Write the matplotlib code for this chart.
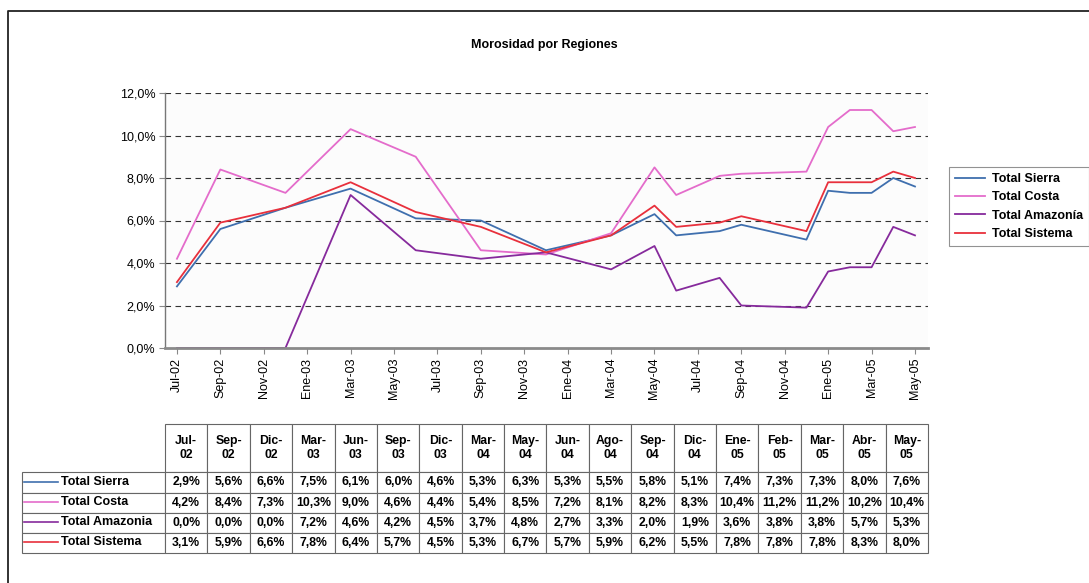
import matplotlib
matplotlib.use('Agg')
import matplotlib.pyplot as plt
from matplotlib.lines import Line2D

plt.rcParams['font.family'] = ['Liberation Sans', 'DejaVu Sans']

# --- datos ---
meses = ['Ene', 'Feb', 'Mar', 'Abr', 'May', 'Jun', 'Jul', 'Ago', 'Sep', 'Oct', 'Nov', 'Dic']
fechas = ['Jul-02', 'Sep-02', 'Dic-02', 'Mar-03', 'Jun-03', 'Sep-03', 'Dic-03', 'Mar-04', 'May-04',
          'Jun-04', 'Ago-04', 'Sep-04', 'Dic-04', 'Ene-05', 'Feb-05', 'Mar-05', 'Abr-05', 'May-05']
sierra = [2.9, 5.6, 6.6, 7.5, 6.1, 6.0, 4.6, 5.3, 6.3, 5.3, 5.5, 5.8, 5.1, 7.4, 7.3, 7.3, 8.0, 7.6]
costa = [4.2, 8.4, 7.3, 10.3, 9.0, 4.6, 4.4, 5.4, 8.5, 7.2, 8.1, 8.2, 8.3, 10.4, 11.2, 11.2, 10.2, 10.4]
amazonia = [0.0, 0.0, 0.0, 7.2, 4.6, 4.2, 4.5, 3.7, 4.8, 2.7, 3.3, 2.0, 1.9, 3.6, 3.8, 3.8, 5.7, 5.3]
sistema = [3.1, 5.9, 6.6, 7.8, 6.4, 5.7, 4.5, 5.3, 6.7, 5.7, 5.9, 6.2, 5.5, 7.8, 7.8, 7.8, 8.3, 8.0]
nombres = ['Total Sierra', 'Total Costa', 'Total Amazonia', 'Total Sistema']
nombres_leyenda = ['Total Sierra', 'Total Costa', 'Total Amazonía', 'Total Sistema']
colores = ['#3f6fae', '#e46ccb', '#862a9c', '#e8303c']
ticks_x = ['Jul-02', 'Sep-02', 'Nov-02', 'Ene-03', 'Mar-03', 'May-03', 'Jul-03', 'Sep-03', 'Nov-03',
           'Ene-04', 'Mar-04', 'May-04', 'Jul-04', 'Sep-04', 'Nov-04', 'Ene-05', 'Mar-05', 'May-05']
ticks_y = [0, 2, 4, 6, 8, 10, 12]

series = [sierra, costa, amazonia, sistema]


def mes_idx(etiqueta):
    m, a = etiqueta.split('-')
    return (int(a) - 2) * 12 + meses.index(m) - 6


def pct(v):
    return f'{v:.1f}%'.replace('.', ',')


W, H = 1089, 583


def fx(px):
    return px / W


def fy(py):
    return 1 - py / H


fig = plt.figure(figsize=(W / 100, H / 100), dpi=100)

# grafico de lineas
ax = fig.add_axes([fx(165), fy(348), fx(928) - fx(165), fy(93) - fy(348)])
ax.set_facecolor('#fcfcfc')
x = [mes_idx(f) for f in fechas]
lineas = []
for serie, nombre, color in zip(series, nombres_leyenda, colores):
    l, = ax.plot(x, serie, color=color, lw=1.3, label=nombre)
    lineas.append(l)

ax.set_xlim(-0.55, 34.6)
ax.set_ylim(0, 12)
ax.set_yticks(ticks_y)
ax.set_yticklabels([pct(v) for v in ticks_y], fontsize=9)
ax.set_xticks([mes_idx(t) for t in ticks_x])
ax.set_xticklabels(ticks_x, rotation=90, fontsize=9)
for v in ticks_y[1:]:
    ax.axhline(v, color='#333333', lw=0.8, ls=(0, (5, 4)), zorder=0)
for s in ['top', 'right']:
    ax.spines[s].set_visible(False)
for s in ['left', 'bottom']:
    ax.spines[s].set_color('#777777')
    ax.spines[s].set_linewidth(1.0)
    ax.spines[s].set_zorder(5)
ax.spines['bottom'].set_linewidth(2.0)
ax.spines['bottom'].set_color('#8a8a8a')
ax.tick_params(axis='both', length=4, color='#888888', pad=3)

fig.text(0.5, fy(45), 'Morosidad por Regiones', ha='center', va='center',
         fontsize=9, fontweight='bold')

leg = fig.legend(handles=lineas, loc='upper left', bbox_to_anchor=(fx(949), fy(167)),
                 prop={'size': 9, 'weight': 'bold'}, frameon=True, fancybox=False,
                 handlelength=2.4, borderpad=0.5, labelspacing=0.5, handletextpad=0.5,
                 borderaxespad=0)
leg.get_frame().set_edgecolor('#777777')
leg.get_frame().set_linewidth(0.8)

# tabla de datos
ax_tab = fig.add_axes([fx(22), fy(553), fx(928) - fx(22), fy(424) - fy(553)])
ax_tab.axis('off')
filas = [[''] + [f.replace('-', '-\n') for f in fechas]]
for serie in series:
    filas.append([''] + [pct(v) for v in serie])
tbl = ax_tab.table(cellText=filas, cellLoc='center', bbox=[0, 0, 1, 1])
tbl.auto_set_font_size(False)
tbl.set_fontsize(8.8)
for (r, c), cell in tbl.get_celld().items():
    cell.set_width(143 if c == 0 else 763 / 18)
    cell.set_height(48 if r == 0 else 20)
    cell.set_edgecolor('#666666')
    cell.set_linewidth(0.8)
    cell.PAD = 0.02
    cell.get_text().set_fontweight('bold')
tbl[0, 0].visible_edges = 'open'

for i, (nombre, color) in enumerate(zip(nombres, colores)):
    yc = 482 + 20 * i
    fig.add_artist(Line2D([fx(24), fx(58)], [fy(yc), fy(yc)], color=color, lw=1.2,
                          transform=fig.transFigure))
    fig.text(fx(61), fy(yc), nombre, ha='left', va='center', fontsize=9, fontweight='bold')

# borde exterior (solo arriba e izquierda visibles)
fig.add_artist(Line2D([fx(8), fx(8), fx(1089)], [fy(583), fy(11), fy(11)],
                      color='#222222', lw=1.3, transform=fig.transFigure))

fig.savefig('out.png', dpi=100)
